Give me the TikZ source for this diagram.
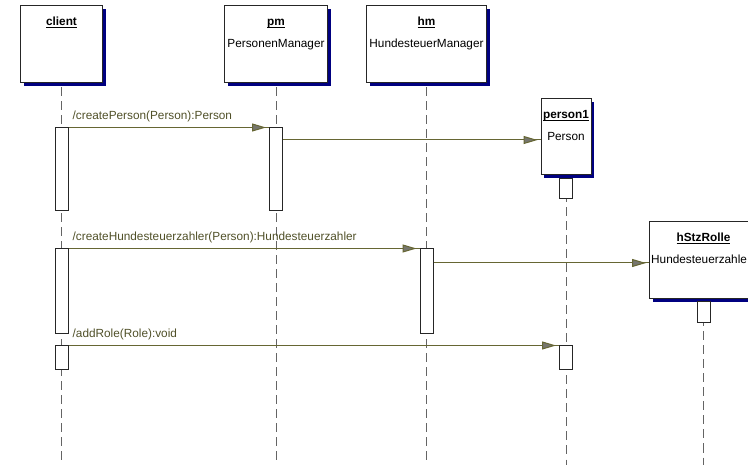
\documentclass[tikz,border=0pt]{standalone}
\usepackage{fontspec}
\setmainfont{Liberation Sans}
\usetikzlibrary{positioning,shadows,arrows.meta}

\definecolor{msgolive}{RGB}{102,102,51}
\definecolor{labelolive}{RGB}{80,80,40}
\definecolor{shadownavy}{RGB}{0,0,128}
\definecolor{lifegray}{RGB}{100,100,100}
\definecolor{tipgray}{RGB}{118,118,110}

\newcommand{\objul}[1]{\underline{\smash{\textbf{#1}}}}

\tikzset{
  object/.style={draw=black!85, fill=white, line width=1pt, inner sep=0pt,
    general shadow={fill=shadownavy, shadow xshift=3pt, shadow yshift=-3pt}},
  activation/.style={draw=black!85, fill=white, line width=1pt, minimum width=13pt, inner sep=0pt},
  lifeline/.style={draw=lifegray, line width=1pt, dash pattern=on 9pt off 5pt},
  msg/.style={draw=msgolive, line width=1pt,
    -{Triangle[length=14pt,width=8pt,fill=tipgray]Rectangle[length=3pt,width=1pt,line width=0pt]}},
  msglabel/.style={text=labelolive, inner sep=0pt, font=\fontsize{11.8}{14}\selectfont},
  objname/.style={inner sep=0pt, font=\fontsize{11.8}{14}\selectfont},
  objtype/.style={inner sep=0pt, font=\fontsize{11.8}{14}\selectfont},
}

\begin{document}
\begin{tikzpicture}[x=1pt, y=-1pt]
                  \useasboundingbox (0,0) rectangle (748,465);
                  \clip (0,0) rectangle (748,465);
                  \coordinate (bottom) at (0,465);

                  % objects
                  \node[object, minimum width=82pt, minimum height=77pt] (client) at (61.5,44.5) {};
                  \node[object, minimum width=103pt, minimum height=77pt] (pm) at (276,44.5) {};
                  \node[object, minimum width=120pt, minimum height=77pt] (hm) at (426.5,44.5) {};
                  \node[object, minimum width=50pt, minimum height=76pt] (person1) at (566,137) {};
                  \node[object, minimum width=108pt, minimum height=77pt] (hStz) at (703.5,260.5) {};

                  \node[objname, below=20pt of client.north, anchor=base] (clientN) {\objul{client}};
                  \node[objname, below=20pt of pm.north, anchor=base] (pmN) {\objul{pm}};
                  \node[objtype, below=42pt of pm.north, anchor=base] (pmT) {PersonenManager};
                  \node[objname, below=20pt of hm.north, anchor=base] (hmN) {\objul{hm}};
                  \node[objtype, below=42pt of hm.north, anchor=base] (hmT) {HundesteuerManager};
                  \node[objname, below=20pt of person1.north, anchor=base] (person1N) {\objul{person1}};
                  \node[objtype, below=42pt of person1.north, anchor=base] (person1T) {Person};
                  \node[objname, below=20pt of hStz.north, anchor=base] (hStzN) {\objul{hStzRolle}};
                  \node[objtype, below right=42pt and 2pt of hStz.north west, anchor=base west] (hStzT) {Hundesteuerzahle};

                  % lifelines
                  \foreach \o in {client,pm,hm,person1,hStz}
                    \draw[lifeline] ([yshift=-4pt]\o.south) -- (\o.south |- bottom);

                  % activations
                  \node[activation, minimum height=83pt] (actC1) at (client |- 0,169.5) {};
                  \node[activation, minimum height=83pt] (actP1) at (pm |- 0,169.5) {};
                  \node[activation, minimum height=20pt] (actPe) at (person1 |- 0,189) {};
                  \node[activation, minimum height=85pt] (actC2) at (client |- 0,291.5) {};
                  \node[activation, minimum height=85pt] (actH) at (hm |- 0,291.5) {};
                  \node[activation, minimum height=21pt] (actR) at (hStz |- 0,312.5) {};
                  \node[activation, minimum height=24pt] (actC3) at (client |- 0,358) {};
                  \node[activation, minimum height=24pt] (actPe2) at (person1 |- 0,358) {};

                  % messages
                  \coordinate (p1in) at ([yshift=-3pt]person1.west);
                  \coordinate (hzin) at ([yshift=-2.5pt]hStz.west);

                  \draw[msg] (actC1.north east) -- (actP1.north west);
                  \node[msglabel, above right=7.5pt and 4pt of actC1.north east, anchor=base west] (lblPerson) {/createPerson(Person):Person};
                  \draw[msg] (actP1.east |- p1in) -- (p1in);

                  \draw[msg] (actC2.north east) -- (actH.north west);
                  \node[msglabel, above right=7.5pt and 4pt of actC2.north east, anchor=base west] (lblSteuer) {/createHundesteuerzahler(Person):Hundesteuerzahler};
                  \draw[msg] (actH.east |- hzin) -- (hzin);

                  \draw[msg] (actC3.north east) -- (actPe2.north west);
                  \node[msglabel, above right=7.5pt and 4pt of actC3.north east, anchor=base west] (lblRole) {/addRole(Role):void};
                \end{tikzpicture}
\end{document}
